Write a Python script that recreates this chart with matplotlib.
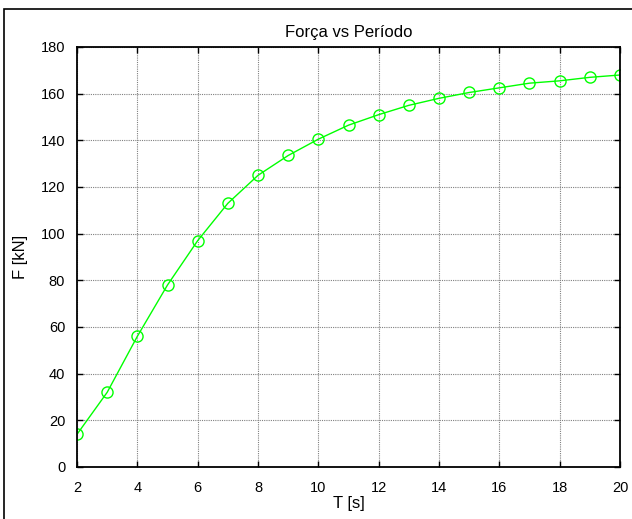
import matplotlib
matplotlib.use("Agg")
import matplotlib.pyplot as plt
from matplotlib.patches import Rectangle

T = [2, 3, 4, 5, 6, 7, 8, 9, 10, 11, 12, 13, 14, 15, 16, 17, 18, 19, 20]
F = [14, 32, 56, 78, 97, 113, 125, 133.5, 140.5, 146.5, 151, 155, 158, 160.5, 162.5, 164.5, 165.5, 167, 168]
xticks = [2, 4, 6, 8, 10, 12, 14, 16, 18, 20]
yticks = [0, 20, 40, 60, 80, 100, 120, 140, 160, 180]

plt.rcParams['font.family'] = ['Liberation Sans', 'DejaVu Sans']
W, H = 632, 519
fig = plt.figure(figsize=(W/100, H/100), dpi=100)
ax = fig.add_axes([77/W, 1-467/H, (620-77)/W, (467-47)/H])

ax.plot(T, F, color='#00ff00', lw=1, marker='o', mfc='none', mec='#00ff00', ms=8, mew=1)
ax.set_xlim(2, 20)
ax.set_ylim(0, 180)
ax.set_xticks(xticks)
ax.set_yticks(yticks)
ax.grid(True, color='#808080', ls=(0, (1, 1)), lw=0.8)
ax.tick_params(direction='in', top=True, right=True, length=4, labelsize=10.5, width=1)
ax.tick_params(axis='x', pad=10)
ax.tick_params(axis='y', pad=8.5)
for s in ax.spines.values():
    s.set_linewidth(1.3)
ax.set_xlabel('T [s]', fontsize=12, labelpad=1)
ax.set_ylabel('F [kN]', fontsize=12, labelpad=9)
ax.set_title('Força vs Período', fontsize=12, pad=7)

fig.patches.append(Rectangle((4/W, -0.1), 1.2, 1.1-9/H, transform=fig.transFigure,
                             fill=False, edgecolor='black', lw=1.2))
fig.savefig('out.png', dpi=100)
